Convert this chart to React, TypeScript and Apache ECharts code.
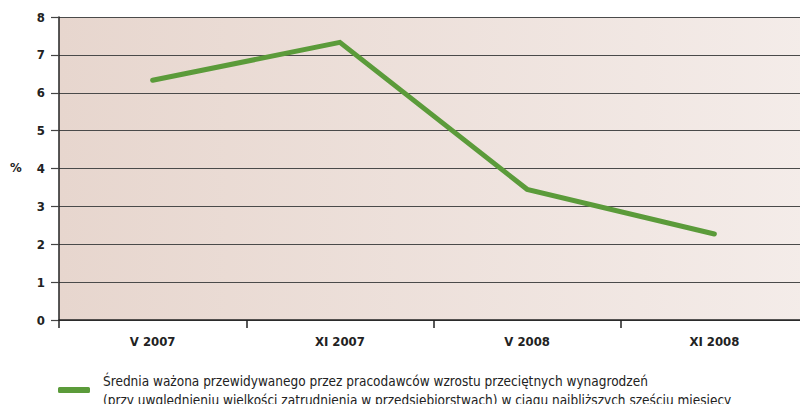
import React, { useEffect, useRef } from "react";
import * as echarts from "echarts";

const categories = ["V 2007", "XI 2007", "V 2008", "XI 2008"];
const values = [6.33, 7.33, 3.45, 2.27];
const seriesName =
  "Średnia ważona przewidywanego przez pracodawców wzrostu przeciętnych wynagrodzeń\n(przy uwględnieniu wielkości zatrudnienia w przedsiębiorstwach) w ciągu najbliższych sześciu miesięcy";
const yMin = 0;
const yMax = 8;
const yInterval = 1;

const FONT = "'Liberation Sans Narrow', 'DejaVu Sans Condensed', 'Liberation Sans', sans-serif";

export default function App() {
  const ref = useRef<HTMLDivElement>(null);
  useEffect(() => {
    if (!ref.current) return;
    const chart = echarts.init(ref.current, undefined, { renderer: "svg" });
    chart.setOption({
      animation: false,
      backgroundColor: "#ffffff",
      grid: {
        left: 59,
        top: 17,
        width: 756,
        height: 303,
        show: true,
        borderWidth: 0,
        backgroundColor: new echarts.graphic.LinearGradient(0, 0, 1, 0, [
          { offset: 0, color: "#e7d6ce" },
          { offset: 1, color: "#f4ece9" },
        ]),
      },
      legend: {
        left: 58,
        top: 371,
        padding: 0,
        itemWidth: 32,
        itemHeight: 6,
        icon: "roundRect",
        itemGap: 10,
        data: [seriesName],
        textStyle: {
          fontFamily: FONT,
          fontSize: 13.5,
          color: "#222",
          lineHeight: 19,
          padding: [0, 0, 0, 8],
        },
      },
      graphic: [
        {
          type: "text",
          left: 10,
          top: 161,
          style: { text: "%", fontFamily: FONT, fontSize: 13, fontWeight: "bold", fill: "#222" },
        },
      ],
      xAxis: {
        type: "category",
        data: categories,
        boundaryGap: true,
        axisLine: { show: true, lineStyle: { color: "#222", width: 1.5 } },
        axisTick: { show: true, length: 8, lineStyle: { color: "#222", width: 1.5 } },
        axisLabel: {
          fontFamily: FONT,
          fontSize: 13,
          fontWeight: "bold",
          color: "#222",
          margin: 15,
        },
        splitLine: { show: false },
      },
      yAxis: {
        type: "value",
        min: yMin,
        max: yMax,
        interval: yInterval,
        axisLine: { show: true, lineStyle: { color: "#222", width: 1.5 } },
        axisTick: { show: true, length: 8, lineStyle: { color: "#444", width: 1.2 } },
        axisLabel: {
          fontFamily: FONT,
          fontSize: 13,
          fontWeight: "bold",
          color: "#222",
          margin: 14,
        },
        splitLine: { show: true, lineStyle: { color: "#4a4a4a", width: 1.2 } },
      },
      series: [
        {
          name: seriesName,
          type: "line",
          data: values,
          symbol: "none",
          lineStyle: { color: "#5b9b3a", width: 5, cap: "round", join: "miter" },
          itemStyle: { color: "#5b9b3a" },
        },
      ],
    });
    return () => chart.dispose();
  }, []);
  return <div ref={ref} style={{ width: 808, height: 412, margin: -8 }} />;
}
